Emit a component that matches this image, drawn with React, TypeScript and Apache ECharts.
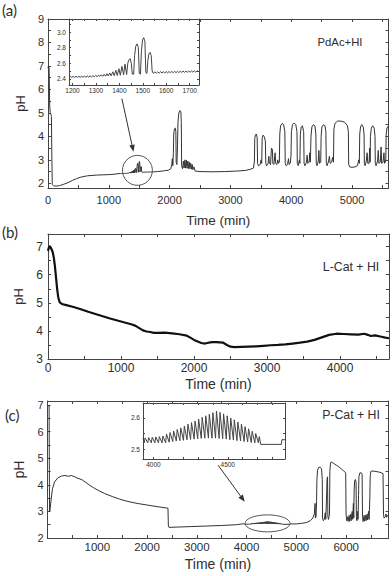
import React, { useEffect, useRef } from "react";
import * as echarts from "echarts";

type P = [number, number];

// ---------- Panel (a): PdAc + HI ----------
const A_START: P[] = [
  [0, 6.9], [8, 7.0], [18, 6.9], [28, 5.3], [36, 5.02], [48, 4.95], [56, 4.85], [63, 3.2], [70, 1.95],
  [90, 1.9], [130, 1.88], [190, 1.9], [260, 1.96], [330, 2.03], [400, 2.12], [470, 2.2], [550, 2.27],
  [650, 2.32], [800, 2.35], [1000, 2.37], [1100, 2.39], [1185, 2.42],
];
const A_INSET: P[] = [
  [1185, 2.42], [1191, 2.43], [1197, 2.418], [1203, 2.43], [1209, 2.418], [1215, 2.431], [1221, 2.419],
  [1227, 2.432], [1233, 2.42], [1239, 2.433], [1245, 2.42], [1251, 2.434], [1257, 2.421], [1263, 2.436],
  [1269, 2.422], [1275, 2.438], [1281, 2.424], [1287, 2.44], [1293, 2.425], [1299, 2.443], [1305, 2.427],
  [1311, 2.447], [1317, 2.43], [1323, 2.452], [1329, 2.432], [1335, 2.458], [1341, 2.434], [1347, 2.465],
  [1353, 2.436], [1359, 2.475], [1365, 2.438], [1372, 2.49], [1378, 2.44], [1385, 2.51], [1391, 2.442],
  [1398, 2.53], [1404, 2.445], [1411, 2.56], [1418, 2.45], [1424, 2.59], [1431, 2.455], [1436, 2.6],
  [1440, 2.64], [1446, 2.66], [1451, 2.6], [1455, 2.46], [1461, 2.46], [1465, 2.7], [1470, 2.82],
  [1476, 2.85], [1481, 2.8], [1485, 2.47], [1490, 2.46], [1494, 2.75], [1499, 2.9], [1504, 2.93],
  [1509, 2.88], [1513, 2.48], [1518, 2.47], [1521, 2.62], [1526, 2.72], [1531, 2.74], [1536, 2.7],
  [1540, 2.5], [1545, 2.47], [1552, 2.49], [1558, 2.472], [1564, 2.49], [1570, 2.473], [1576, 2.491],
  [1582, 2.474], [1588, 2.492], [1594, 2.475], [1600, 2.493], [1606, 2.476], [1612, 2.494], [1618, 2.477],
  [1624, 2.495], [1630, 2.478], [1636, 2.496], [1642, 2.479], [1648, 2.497], [1654, 2.48], [1660, 2.498],
  [1666, 2.481], [1672, 2.499], [1678, 2.482], [1684, 2.5], [1690, 2.483], [1696, 2.5], [1702, 2.484],
  [1708, 2.501], [1714, 2.485], [1720, 2.502], [1726, 2.486], [1732, 2.503], [1740, 2.49],
];
const A_END: P[] = [
  [1740, 2.49], [1800, 2.5], [1900, 2.53], [1980, 2.56], [2020, 2.62], [2035, 2.8], [2045, 3.05],
  [2053, 2.75], [2062, 3.3], [2068, 4.1], [2080, 4.32], [2095, 4.35], [2103, 4.2], [2108, 2.9],
  [2120, 2.8], [2130, 3.6], [2138, 4.6], [2150, 4.98], [2170, 5.1], [2185, 5.05], [2192, 4.6],
  [2198, 2.75], [2212, 2.62], [2228, 2.95], [2238, 2.65], [2252, 3.0], [2262, 2.65], [2276, 2.98],
  [2286, 2.64], [2300, 2.95], [2310, 2.63], [2324, 2.9], [2334, 2.62], [2348, 2.85], [2358, 2.6],
  [2372, 2.8], [2382, 2.58], [2400, 2.7], [2420, 2.52], [2500, 2.5], [2700, 2.49], [2900, 2.5],
  [3100, 2.52], [3250, 2.55], [3330, 2.6], [3380, 2.65],
  [3395, 2.95], [3400, 3.9], [3410, 4.05], [3425, 4.1], [3440, 3.95], [3447, 2.85], [3460, 2.75],
  [3490, 2.8], [3505, 3.0], [3515, 2.85], [3522, 3.9], [3535, 4.05], [3555, 4.0], [3575, 3.8],
  [3582, 2.85], [3595, 2.75], [3620, 2.85], [3632, 3.15], [3640, 2.85], [3660, 2.8], [3675, 3.5],
  [3690, 3.45], [3698, 2.85], [3715, 2.8], [3735, 3.3], [3745, 2.85], [3765, 2.8], [3780, 3.0],
  [3790, 2.85], [3805, 2.9], [3812, 4.1], [3825, 4.45], [3850, 4.55], [3875, 4.5], [3895, 4.2],
  [3902, 2.85], [3915, 2.75], [3940, 2.8], [3955, 3.05], [3965, 2.8], [3985, 2.85], [3997, 3.2],
  [4003, 4.2], [4020, 4.5], [4050, 4.57], [4075, 4.5], [4095, 4.2], [4100, 2.85], [4115, 2.75],
  [4135, 3.0], [4143, 2.85], [4150, 4.1], [4165, 4.4], [4185, 4.45], [4205, 4.2], [4212, 2.85],
  [4225, 2.75], [4250, 2.9], [4262, 3.2], [4272, 2.85], [4295, 2.9], [4305, 3.3], [4315, 2.9],
  [4325, 4.0], [4340, 4.4], [4365, 4.5], [4390, 4.45], [4405, 4.1], [4412, 2.85], [4425, 2.75],
  [4445, 2.95], [4455, 3.4], [4465, 2.85], [4485, 2.9], [4492, 4.0], [4505, 4.4], [4530, 4.5],
  [4555, 4.45], [4570, 4.2], [4577, 2.85], [4590, 2.75], [4615, 2.95], [4628, 3.15], [4640, 2.85],
  [4665, 2.9], [4680, 3.1], [4695, 2.9], [4702, 4.3], [4720, 4.55], [4760, 4.65], [4820, 4.65],
  [4880, 4.6], [4925, 4.45], [4940, 4.2], [4945, 2.8], [4960, 2.7], [5000, 2.68], [5050, 2.7],
  [5090, 2.75], [5110, 3.0], [5120, 2.85], [5127, 4.1], [5140, 4.4], [5160, 4.5], [5185, 4.4],
  [5198, 4.1], [5203, 2.85], [5215, 2.75], [5235, 2.95], [5248, 3.3], [5260, 2.85], [5280, 2.85],
  [5292, 3.5], [5298, 2.9], [5303, 4.0], [5318, 4.35], [5340, 4.45], [5365, 4.35], [5378, 4.0],
  [5383, 2.85], [5395, 2.75], [5420, 2.95], [5432, 3.4], [5442, 2.85], [5465, 2.9], [5478, 3.55],
  [5488, 2.85], [5510, 2.9], [5525, 3.3], [5535, 2.85], [5555, 2.95], [5562, 4.1], [5575, 4.35],
  [5600, 4.45],
];

// ---------- Panel (b): L-Cat + HI ----------
const B_DATA: P[] = [
  [0, 6.85], [10, 6.95], [20, 7.02], [35, 6.98], [50, 6.9], [65, 6.8], [80, 6.6], [95, 6.3], [110, 5.9],
  [125, 5.5], [140, 5.2], [160, 5.02], [190, 4.96], [250, 4.92], [350, 4.85], [450, 4.77], [550, 4.68],
  [650, 4.6], [750, 4.52], [850, 4.44], [950, 4.37], [1050, 4.3], [1150, 4.23], [1200, 4.18], [1250, 4.1],
  [1300, 4.02], [1350, 3.98], [1400, 3.96], [1450, 3.93], [1500, 3.93], [1600, 3.94], [1700, 3.91],
  [1800, 3.88], [1900, 3.83], [1950, 3.76], [2000, 3.68], [2050, 3.62], [2100, 3.57], [2150, 3.55],
  [2200, 3.58], [2250, 3.6], [2300, 3.6], [2350, 3.59], [2400, 3.58], [2450, 3.5], [2500, 3.44],
  [2550, 3.42], [2650, 3.43], [2750, 3.44], [2850, 3.45], [2950, 3.47], [3050, 3.49], [3150, 3.5],
  [3250, 3.52], [3350, 3.55], [3450, 3.58], [3550, 3.62], [3650, 3.68], [3750, 3.77], [3850, 3.86],
  [3950, 3.9], [4050, 3.89], [4150, 3.88], [4250, 3.87], [4330, 3.9], [4380, 3.86], [4420, 3.82],
  [4480, 3.84], [4550, 3.8], [4620, 3.76], [4670, 3.74],
];

// ---------- Panel (c): P-Cat + HI ----------
const C_START: P[] = [
  [25, 6.95], [32, 7.0], [38, 4.0], [42, 3.0], [50, 3.05], [70, 3.4], [100, 3.85], [140, 4.1], [200, 4.25],
  [280, 4.33], [350, 4.35], [420, 4.32], [480, 4.35], [550, 4.3], [600, 4.25], [650, 4.22], [700, 4.18],
  [760, 4.1], [850, 3.98], [950, 3.86], [1050, 3.76], [1150, 3.67], [1300, 3.56], [1450, 3.46],
  [1600, 3.38], [1800, 3.3], [2000, 3.24], [2200, 3.18], [2420, 3.12], [2428, 2.45], [2440, 2.4],
  [2600, 2.41], [2900, 2.43], [3200, 2.45], [3500, 2.47], [3800, 2.5], [3930, 2.535],
];
const C_INSET: P[] = [
  [3930, 2.535], [3938, 2.52], [3944, 2.536], [3962, 2.52], [3968, 2.537], [3986, 2.52], [3992, 2.538],
  [4010, 2.52], [4016, 2.539], [4034, 2.52], [4040, 2.54], [4058, 2.52], [4064, 2.542], [4082, 2.52],
  [4088, 2.548], [4106, 2.522], [4112, 2.553], [4130, 2.524], [4136, 2.558], [4154, 2.526], [4160, 2.563],
  [4178, 2.527], [4184, 2.568], [4202, 2.528], [4208, 2.574], [4226, 2.53], [4232, 2.58], [4250, 2.531],
  [4256, 2.585], [4274, 2.532], [4280, 2.59], [4298, 2.533], [4304, 2.596], [4322, 2.534], [4328, 2.602],
  [4346, 2.535], [4352, 2.607], [4370, 2.535], [4376, 2.612], [4394, 2.535], [4400, 2.617], [4418, 2.535],
  [4424, 2.622], [4442, 2.534], [4448, 2.618], [4466, 2.533], [4472, 2.613], [4490, 2.532], [4496, 2.607],
  [4514, 2.53], [4520, 2.6], [4538, 2.529], [4544, 2.594], [4562, 2.527], [4568, 2.587], [4586, 2.526],
  [4592, 2.58], [4610, 2.524], [4616, 2.572], [4634, 2.523], [4640, 2.565], [4658, 2.521], [4664, 2.557],
  [4682, 2.52], [4688, 2.55], [4706, 2.52], [4712, 2.54], [4722, 2.515], [4860, 2.515], [4864, 2.53],
  [4885, 2.53],
];
const C_END: P[] = [
  [4885, 2.53], [5000, 2.53], [5100, 2.55], [5200, 2.58], [5280, 2.65], [5330, 2.75], [5360, 2.9],
  [5375, 3.3], [5382, 2.75], [5395, 2.8], [5405, 3.4], [5412, 4.2], [5425, 4.55], [5450, 4.66],
  [5480, 4.66], [5505, 4.6], [5520, 4.2], [5525, 2.75], [5540, 2.65], [5560, 2.7], [5580, 2.95],
  [5590, 2.7], [5605, 3.5], [5615, 4.2], [5625, 4.3], [5632, 2.8], [5645, 2.7], [5665, 2.9],
  [5672, 4.5], [5685, 4.82], [5700, 4.86], [5750, 4.8], [5800, 4.74], [5850, 4.68], [5900, 4.6],
  [5950, 4.52], [5990, 4.45], [5998, 2.9], [6010, 2.65], [6030, 2.8], [6040, 2.62], [6060, 2.85],
  [6070, 2.63], [6090, 2.9], [6100, 2.65], [6120, 3.0], [6130, 2.7], [6145, 3.3], [6152, 2.75],
  [6160, 3.8], [6170, 4.15], [6185, 4.2], [6198, 4.1], [6205, 2.8], [6215, 2.65], [6230, 3.0],
  [6238, 2.7], [6248, 3.6], [6255, 4.3], [6275, 4.45], [6300, 4.45], [6320, 4.4], [6328, 2.8],
  [6340, 2.62], [6360, 2.85], [6370, 2.63], [6390, 2.85], [6400, 2.65], [6420, 2.9], [6430, 2.68],
  [6450, 3.0], [6460, 2.7], [6475, 3.5], [6482, 4.3], [6495, 4.5], [6520, 4.52], [6600, 4.5],
  [6680, 4.47], [6740, 4.42], [6750, 2.9], [6760, 2.75], [6790, 2.8], [6800, 2.9], [6810, 2.78],
  [6830, 2.85], [6850, 2.8],
];

// ---------- tick values ----------
const A_X_LABELS = [0, 1000, 2000, 3000, 4000, 5000];
const A_X_TICKS = [0, 500, 1000, 1500, 2000, 2500, 3000, 3500, 4000, 4500, 5000, 5500];
const A_Y_LABELS = [2, 3, 4, 5, 6, 7, 8, 9];
const A_Y_TICKS = [2, 2.5, 3, 3.5, 4, 4.5, 5, 5.5, 6, 6.5, 7, 7.5, 8, 8.5, 9];
const AI_X_LABELS = [1200, 1300, 1400, 1500, 1600, 1700];
const AI_X_TICKS = [1200, 1250, 1300, 1350, 1400, 1450, 1500, 1550, 1600, 1650, 1700];
const AI_Y_LABELS = [2.4, 2.6, 2.8, 3.0];
const AI_Y_TICKS = [2.4, 2.5, 2.6, 2.7, 2.8, 2.9, 3.0, 3.1];
const B_X_LABELS = [0, 1000, 2000, 3000, 4000];
const B_X_TICKS = [0, 500, 1000, 1500, 2000, 2500, 3000, 3500, 4000, 4500];
const B_Y_LABELS = [3, 4, 5, 6, 7];
const B_Y_TICKS = [3, 3.5, 4, 4.5, 5, 5.5, 6, 6.5, 7];
const C_X_LABELS = [1000, 2000, 3000, 4000, 5000, 6000];
const C_X_TICKS = [500, 1000, 1500, 2000, 2500, 3000, 3500, 4000, 4500, 5000, 5500, 6000, 6500];
const C_Y_LABELS = [2, 3, 4, 5, 6, 7];
const C_Y_TICKS = [2, 2.5, 3, 3.5, 4, 4.5, 5, 5.5, 6, 6.5, 7];
const CI_X_LABELS = [4000, 4500];
const CI_X_TICKS = [4000, 4100, 4200, 4300, 4400, 4500, 4600, 4700, 4800];
const CI_Y_LABELS = [2.5, 2.6];
const CI_Y_TICKS = [2.5, 2.55, 2.6];

const FONT = "'Liberation Sans', Arial, sans-serif";
const TEXT = "#2e2e2e";
const LINE = { color: "#444444", width: 1 };

type AxOpt = {
  fs: number; tl: number; lm: number; name?: string; ng?: number; nfs?: number; dec?: number;
};

function xAxes(grid: number, min: number, max: number, labels: number[], ticks: number[], o: AxOpt) {
  const fmt = (v: number) => (o.dec ? v.toFixed(o.dec) : String(Math.round(v)));
  const base = {
    type: "value", gridIndex: grid, min, max, splitLine: { show: false },
    axisLine: { show: true, onZero: false, lineStyle: LINE },
    axisTick: { show: true, inside: true, length: o.tl, customValues: ticks, lineStyle: LINE },
  };
  return [
    {
      ...base, position: "bottom",
      axisLabel: { show: true, customValues: labels, fontSize: o.fs, color: TEXT, margin: o.lm, fontFamily: FONT, formatter: fmt },
      name: o.name, nameLocation: "middle", nameGap: o.ng,
      nameTextStyle: { fontSize: o.nfs, color: TEXT, fontFamily: FONT },
    },
    { ...base, position: "top", axisLabel: { show: false } },
  ];
}

function yAxes(grid: number, min: number, max: number, labels: number[], ticks: number[], o: AxOpt) {
  const fmt = (v: number) => (o.dec ? v.toFixed(o.dec) : String(Math.round(v)));
  const base = {
    type: "value", gridIndex: grid, min, max, splitLine: { show: false },
    axisLine: { show: true, onZero: false, lineStyle: LINE },
    axisTick: { show: true, inside: true, length: o.tl, customValues: ticks, lineStyle: LINE },
  };
  return [
    {
      ...base, position: "left",
      axisLabel: { show: true, customValues: labels, fontSize: o.fs, color: TEXT, margin: o.lm, fontFamily: FONT, formatter: fmt },
      name: o.name, nameLocation: "middle", nameGap: o.ng,
      nameTextStyle: { fontSize: o.nfs, color: TEXT, fontFamily: FONT },
    },
    { ...base, position: "right", axisLabel: { show: false } },
  ];
}

function lineSeries(data: P[], axis: number, width: number, color: string, z: number) {
  return {
    type: "line", data, xAxisIndex: axis, yAxisIndex: axis, showSymbol: false, symbol: "none",
    lineStyle: { width, color }, z, silent: true, clip: true,
  };
}

export default function App() {
  const ref = useRef<HTMLDivElement>(null);
  useEffect(() => {
    const chart = echarts.init(ref.current!, null, { renderer: "svg" });
    const grid = (left: number, top: number, width: number, height: number, z: number, bg: string) => ({
      left, top, width, height, containLabel: false, outerBoundsMode: "none",
      show: true, backgroundColor: bg, borderWidth: 0, z,
    });
    const option: any = {
      animation: false,
      backgroundColor: "#ffffff",
      grid: [
        grid(48, 19, 340.5, 169, 0, "transparent"),
        grid(69, 19, 130, 66, 5, "#ffffff"),
        grid(48, 234, 341, 125, 0, "transparent"),
        grid(47.5, 401, 341, 137, 0, "transparent"),
        grid(143, 403, 142, 56, 5, "#ffffff"),
      ],
      xAxis: [
        ...xAxes(0, 0, 5600, A_X_LABELS, A_X_TICKS, { fs: 11, tl: 3, lm: 6, name: "Time (min)", ng: 25, nfs: 13.5 }),
        ...xAxes(1, 1185, 1740, AI_X_LABELS, AI_X_TICKS, { fs: 6.5, tl: 2, lm: 2 }),
        ...xAxes(2, 0, 4670, B_X_LABELS, B_X_TICKS, { fs: 12, tl: 3, lm: 3, name: "Time (min)", ng: 18, nfs: 14 }),
        ...xAxes(3, 0, 6850, C_X_LABELS, C_X_TICKS, { fs: 11.5, tl: 3, lm: 3, name: "Time (min)", ng: 19, nfs: 14 }),
        ...xAxes(4, 3930, 4885, CI_X_LABELS, CI_X_TICKS, { fs: 6.5, tl: 2, lm: 2 }),
      ],
      yAxis: [
        ...yAxes(0, 1.8, 9, A_Y_LABELS, A_Y_TICKS, { fs: 11, tl: 3, lm: 4, name: "pH", ng: 19, nfs: 13 }),
        ...yAxes(1, 2.32, 3.17, AI_Y_LABELS, AI_Y_TICKS, { fs: 6.5, tl: 2, lm: 3, dec: 1 }),
        ...yAxes(2, 3, 7.45, B_Y_LABELS, B_Y_TICKS, { fs: 12, tl: 3, lm: 5, name: "pH", ng: 17, nfs: 13 }),
        ...yAxes(3, 2, 7.15, C_Y_LABELS, C_Y_TICKS, { fs: 11, tl: 3, lm: 4, name: "pH", ng: 19, nfs: 14 }),
        ...yAxes(4, 2.468, 2.648, CI_Y_LABELS, CI_Y_TICKS, { fs: 6.5, tl: 2, lm: 3, dec: 1 }),
      ],
      series: [
        lineSeries([...A_START, ...A_INSET.slice(1), ...A_END.slice(1)], 0, 1, "#333333", 2),
        lineSeries(A_INSET, 2, 1, "#444444", 8),
        lineSeries(B_DATA, 4, 2.2, "#111111", 2),
        lineSeries([...C_START, ...C_INSET.slice(1), ...C_END.slice(1)], 6, 1, "#333333", 2),
        lineSeries(C_INSET, 8, 1, "#444444", 8),
      ],
    };
    // inset axes above the white inset background
    [2, 3, 8, 9].forEach((i) => { option.xAxis[i].z = 7; option.yAxis[i].z = 7; });
    chart.setOption(option);

    const px = (ax: number, x: number, y: number) =>
      chart.convertToPixel({ xAxisIndex: ax, yAxisIndex: ax }, [x, y]) as number[];
    const arrow = (a: number[], b: number[]) => {
      const dx = b[0] - a[0], dy = b[1] - a[1];
      const len = Math.hypot(dx, dy);
      const ux = dx / len, uy = dy / len;
      const hl = 7, hw = 2.8;
      const bx = b[0] - ux * hl, by = b[1] - uy * hl;
      return [
        { type: "line", z: 100, shape: { x1: a[0], y1: a[1], x2: bx, y2: by }, style: { stroke: "#333", lineWidth: 1 } },
        {
          type: "polygon", z: 100,
          shape: { points: [[b[0], b[1]], [bx - uy * hw, by + ux * hw], [bx + uy * hw, by - ux * hw]] },
          style: { fill: "#333" },
        },
      ];
    };
    const circA = px(0, 1470, 2.6);
    const ellC = px(6, 4420, 2.55);
    const txt = (x: number, y: number, t: string, fs: number, family = FONT, align = "left") => ({
      type: "text", z: 100, x, y,
      style: { text: t, fontSize: fs, fontFamily: family, fill: TEXT, align, verticalAlign: "middle" },
    });
    chart.setOption({
      graphic: [
        txt(2, 10, "(a)", 15, "Lato, 'Open Sans', sans-serif"),
        txt(2, 232, "(b)", 15, "Lato, 'Open Sans', sans-serif"),
        txt(5, 415, "(c)", 15, "Lato, 'Open Sans', sans-serif"),
        txt(340, 42, "PdAc+HI", 11.3, FONT, "center"),
        txt(351, 267, "L-Cat + HI", 12.3, FONT, "center"),
        txt(351, 415, "P-Cat + HI", 12.3, FONT, "center"),
        ...arrow(px(0, 1215, 5.61), px(0, 1406, 3.34)),
        { type: "circle", z: 100, shape: { cx: circA[0], cy: circA[1], r: 15 }, style: { fill: "none", stroke: "#555", lineWidth: 1 } },
        ...arrow(px(6, 3426, 4.74), px(6, 3962, 3.36)),
        { type: "ellipse", z: 100, shape: { cx: ellC[0], cy: ellC[1], rx: 22.5, ry: 8.5 }, style: { fill: "none", stroke: "#555", lineWidth: 1 } },
      ],
    });
    return () => chart.dispose();
  }, []);
  return (
    <div
      ref={ref}
      style={{ position: "fixed", left: 0, top: 0, width: 392, height: 576, background: "#fff" }}
    />
  );
}
